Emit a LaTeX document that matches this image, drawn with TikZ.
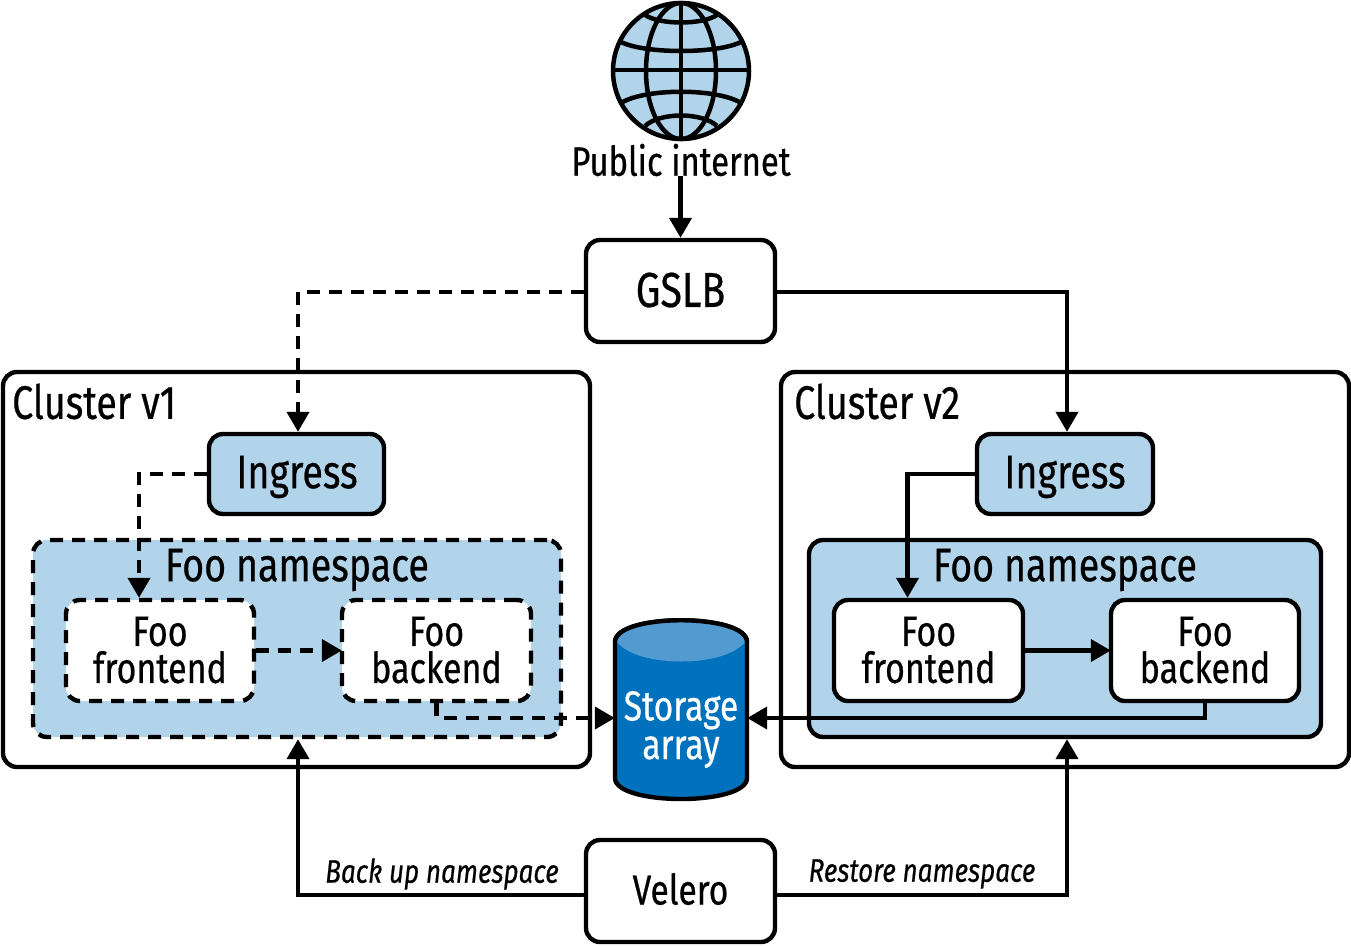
\documentclass[tikz,border=0pt]{standalone}
\usepackage{fontspec}
\setmainfont{Fira Sans}[FakeStretch=0.8,FakeBold=0.5]
\usetikzlibrary{arrows.meta}
\definecolor{lightb}{HTML}{B1D4EA}
\definecolor{deepb}{HTML}{0071BC}
\definecolor{topb}{HTML}{529BD0}
\tikzset{
  box/.style={draw=black,line width=4.4pt,rounded corners=14pt,inner sep=0pt,align=center},
  dashbox/.style={dash pattern=on 13pt off 9pt},
  big/.style={font=\fontsize{47}{44}\selectfont},
  mid/.style={font=\fontsize{42.5}{37}\selectfont},
  lbl/.style={font=\fontsize{32.6}{32}\selectfont\itshape},
  conn/.style={draw=black,line width=4.2pt,-{Triangle[length=20pt,width=22pt]}},
  dconn/.style={conn,dash pattern=on 13pt off 9pt},
  globeline/.style={draw=black,line width=4.5pt}
}
\begin{document}
\begin{tikzpicture}[x=1pt,y=-1pt]
\useasboundingbox (0,0) rectangle (1351,945);
% globe
\fill[lightb] (681,71) circle [radius=68];
\begin{scope}[globeline]
\draw (681,71) ellipse [x radius=35,y radius=68];
\draw (681,3) -- (681,139);
\draw (613,70) -- (749,70);
\draw (621,42) .. controls (645,54) and (717,54) .. (741,42);
\draw (621,103) .. controls (645,88) and (717,88) .. (741,103);
\draw (645,15) .. controls (660,25) and (702,25) .. (717,15);
\draw (645,126) .. controls (660,112) and (702,112) .. (717,126);
\draw (681,71) circle [radius=68];
\end{scope}
\node[font=\fontsize{41}{44}\selectfont,inner sep=0pt] (pub) at (681,160) {Public internet};
\node[box,minimum width=189pt,minimum height=102pt] (gslb) at (680.5,291) {};
\node[font=\fontsize{49}{44}\selectfont,inner sep=0pt] (gslbt) at (680.5,290) {GSLB};
\node[box,minimum width=587pt,minimum height=395pt] (c1) at (296.5,569.5) {};
\node[box,minimum width=568pt,minimum height=395pt] (c2) at (1065,569.5) {};
\node[big,inner sep=0pt,anchor=west] (c1t) at (12,401.5) {Cluster v1};
\node[big,inner sep=0pt,anchor=west] (c2t) at (794,401.5) {Cluster v2};
\node[box,fill=lightb,minimum width=175pt,minimum height=80pt] (ingL) at (296.5,474) {};
\node[box,fill=lightb,minimum width=176pt,minimum height=80pt] (ingR) at (1065,474) {};
\node[big,inner sep=0pt] (ingLt) at (297,477) {Ingress};
\node[big,inner sep=0pt] (ingRt) at (1065,477) {Ingress};
\node[box,dashbox,fill=lightb,minimum width=528pt,minimum height=197pt] (nsL) at (297,638.5) {};
\node[box,fill=lightb,minimum width=512pt,minimum height=197pt] (nsR) at (1065,638.5) {};
\node[big,inner sep=0pt] (nsLt) at (297,570) {Foo namespace};
\node[big,inner sep=0pt] (nsRt) at (1065,570) {Foo namespace};
\node[box,dashbox,fill=white,minimum width=188pt,minimum height=101pt] (feL) at (160,650.5) {};
\node[box,dashbox,fill=white,minimum width=189pt,minimum height=101pt] (beL) at (436.5,650.5) {};
\node[box,fill=white,minimum width=189pt,minimum height=101pt] (feR) at (928.5,650.5) {};
\node[box,fill=white,minimum width=188pt,minimum height=101pt] (beR) at (1205,650.5) {};
\node[mid,inner sep=0pt,align=center] (feLt) at (160,650) {Foo\\frontend};
\node[mid,inner sep=0pt,align=center] (beLt) at (436.5,650) {Foo\\backend};
\node[mid,inner sep=0pt,align=center] (feRt) at (928.5,650) {Foo\\frontend};
\node[mid,inner sep=0pt,align=center] (beRt) at (1205,650) {Foo\\backend};
% storage cylinder
\draw[line width=4.4pt,fill=deepb] (615,642) .. controls (615,613) and (747,613) .. (747,642) -- (747,778) .. controls (747,806) and (615,806) .. (615,778) -- cycle;
\fill[topb] (617,642) .. controls (620,615) and (742,615) .. (745,642) .. controls (725,668) and (637,668) .. (617,642) -- cycle;
\draw[line width=4.4pt] (615,642) .. controls (615,613) and (747,613) .. (747,642);
\node[font=\fontsize{42}{38.5}\selectfont,text=white,inner sep=0pt,minimum width=132pt,minimum height=178pt,align=center] (st) at (681,729.5) {Storage\\array};
\node[box,minimum width=189pt,minimum height=102pt] (vel) at (680.5,891) {};
\node[font=\fontsize{42}{40}\selectfont,inner sep=0pt] (velt) at (680.5,889) {Velero};
% connectors
\draw[conn] (pub.south -| gslb.north) ++(0,0) -- (gslb.north);
\draw[dconn] ([yshift=-1pt]gslb.west) -| ([xshift=1.5pt]ingL.north);
\draw[conn] ([yshift=-1pt]gslb.east) -| ([xshift=2pt]ingR.north);
\draw[dconn] (ingL.west) -| ([xshift=-21pt]feL.north);
\draw[conn] (ingR.west) -| ([xshift=-21pt]feR.north);
\draw[dconn] (feL.east) -- ([xshift=2pt]beL.west);
\draw[conn] (feR.east) -- ([xshift=2pt]beR.west);
\draw[dconn] (beL.south) |- (st.west |- 0,718);
\draw[conn] (beR.south) |- (st.east |- 0,718);
\draw[conn] ([yshift=-4pt]vel.west) -| ([xshift=1pt]nsL.south);
\draw[conn] ([yshift=-4pt]vel.east) -| ([xshift=2pt]nsR.south);
\node[lbl,inner sep=0pt] (bk) at (442,874) {Back up namespace};
\node[lbl,inner sep=0pt] (rs) at (922,874) {Restore namespace};
\end{tikzpicture}
\end{document}
